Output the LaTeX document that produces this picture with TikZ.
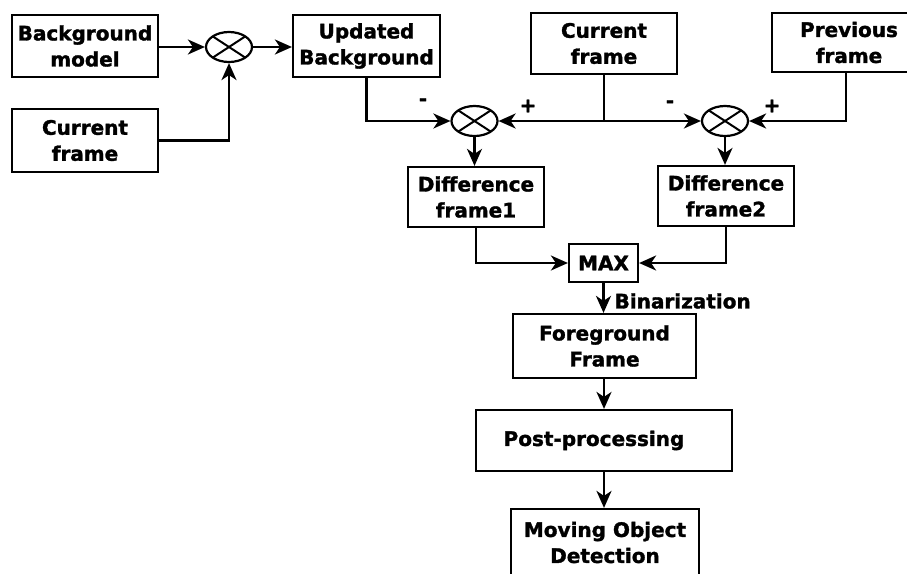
\documentclass[tikz,border=0pt]{standalone}
\usepackage{fontspec}
\setmainfont{DejaVu Sans}[BoldFeatures={FakeBold=1.5}]
\usetikzlibrary{shapes.geometric,arrows.meta,calc}
\begin{document}
\begin{tikzpicture}[x=1pt,y=-1pt,
  every node/.style={font=\bfseries\fontsize{20}{26}\selectfont},
  box/.style={draw,line width=2.2pt,inner sep=0pt,align=center},
  mixer/.style={draw,ellipse,line width=2.2pt,inner sep=0pt,minimum width=46pt,minimum height=30pt,
    path picture={\draw[line width=2pt] (path picture bounding box.north west) -- (path picture bounding box.south east)
      (path picture bounding box.north east) -- (path picture bounding box.south west);}},
  conn/.style={line width=2.2pt},
  arr/.style={conn,-{Stealth[length=17pt,width=15pt,inset=5pt]}},
  sign/.style={inner sep=0pt}]
\useasboundingbox (0,0) rectangle (907,573);
\clip (0,0) rectangle (907,573);
% boxes
\node[box,minimum width=146pt,minimum height=62pt] (bg) at (85,46) {Background\\model};
\node[box,minimum width=146pt,minimum height=63pt] (cf1) at (85,140.5) {Current\\frame};
\node[mixer] (mix1) at (229,47) {};
\node[box,minimum width=147pt,minimum height=62pt] (ub) at (366.5,46) {Updated\\Background};
\node[box,minimum width=146pt,minimum height=61pt] (cf2) at (604,43.5) {Current\\frame};
\node[box,minimum width=148pt,minimum height=59pt] (pf) at (846,42.5) {\hspace*{6pt}Previous\\\hspace*{6pt}frame};
\node[mixer] (mix2) at (474.5,121) {};
\node[mixer] (mix3) at (725,121) {};
\node[box,minimum width=136pt,minimum height=60pt] (d1) at (476,197) {Difference\\frame1};
\node[box,minimum width=136pt,minimum height=60pt] (d2) at (726,196) {Difference\\frame2};
\node[box,minimum width=69pt,minimum height=38pt] (max) at (603.5,263) {MAX};
\node[box,minimum width=183pt,minimum height=64pt] (fg) at (604.5,346) {Foreground\\Frame};
\node[box,minimum width=256pt,minimum height=61pt] (pp) at (604,440.5) {\raisebox{4pt}{Post-processing}\hspace*{20pt}};
\node[box,minimum width=188pt,minimum height=67pt] (mod) at (605,542.5) {Moving Object\\Detection};
% connectors
\draw[arr] (bg.east |- mix1.west) -- (mix1.west);
\draw[arr] (cf1.east) -| (mix1.south);
\draw[arr] (mix1.east) -- (ub.west |- mix1.east);
\draw[arr] (ub.south) |- (mix2.west);
\coordinate (j) at (cf2.south |- mix2.east);
\draw[conn] (cf2.south) -- (j);
\draw[arr] (j) -- (mix2.east);
\draw[arr] (j) -- (mix3.west);
\draw[arr] (pf.south) |- (mix3.east);
\draw[arr] (mix2.south) -- (mix2.south |- d1.north);
\draw[arr] (mix3.south) -- (mix3.south |- d2.north);
\draw[arr] (d1.south) |- (max.west);
\draw[arr] (d2.south) |- (max.east);
\draw[arr] (max.south) -- (max.south |- fg.north) node[midway,right=10pt,yshift=-3pt,inner sep=0pt] {Binarization};
\draw[arr] (fg.south -| pp.north) -- (pp.north);
\draw[arr] (pp.south) -- (pp.south |- mod.north);
% signs
\node[sign] (s1) at (423,102) {-};
\node[sign] (s2) at (528,106) {+};
\node[sign] (s3) at (670,104) {-};
\node[sign] (s4) at (772,106) {+};
\end{tikzpicture}
\end{document}
